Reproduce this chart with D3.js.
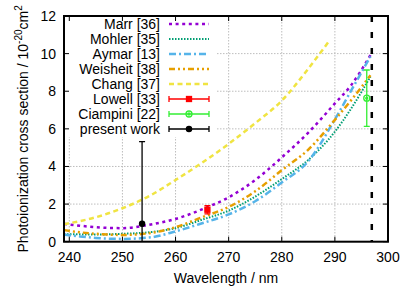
<!DOCTYPE html>
<html><head><meta charset="utf-8">
<script src="https://cdn.jsdelivr.net/npm/d3@7"></script>
<style>body{margin:0;background:#fff}svg{display:block}text{font-family:"Liberation Sans",Arial,sans-serif}</style>
</head><body>
<script>
const W = 415, H = 291;
// ---- data ----
const wavelengths = [239, 242, 245, 250, 255, 260, 265, 270, 275, 280, 285, 290, 293, 296.7];
const marr     = [0.95, 0.85, 0.77, 0.72, 0.90, 1.21, 1.72, 2.36, 3.28, 4.48, 5.80, 7.35, 8.30, 9.92];
const mohler   = [0.40, 0.39, 0.38, 0.42, 0.50, 0.72, 1.17, 1.65, 2.40, 3.33, 4.35, 5.85, 7.05, 8.78];
const aymar    = [0.38, 0.28, 0.20, 0.15, 0.22, 0.55, 0.98, 1.45, 2.15, 3.15, 4.28, 6.50, 8.00, 9.85];
const weisheit = [0.62, 0.50, 0.42, 0.36, 0.45, 0.77, 1.30, 1.85, 2.68, 3.80, 4.90, 6.48, 7.50, 8.85];
const changWl  = [239, 245, 250, 255, 260, 265, 270, 275, 280, 285, 289];
const chang    = [0.93, 1.30, 1.78, 2.42, 3.28, 4.20, 5.20, 6.30, 7.50, 9.20, 10.70];
const lowell   = {wl: 266.0, v: 1.70, err: 0.22};
const ciampini = {wl: 296.0, v: 7.63, err: 1.50};
const present  = {wl: 253.7, v: 0.96, err: 4.36};
const threshold = 296.95;
const xTicks = [240, 250, 260, 270, 280, 290, 300];
const yTicks = [0, 2, 4, 6, 8, 10, 12];

const series = [
  {name: "Marr [36]",     wl: wavelengths, v: marr,     color: "#9400d3", dash: "3,3.6",          w: 2.5},
  {name: "Mohler [35]",   wl: wavelengths, v: mohler,   color: "#009e73", dash: "1.5,1.5",        w: 2},
  {name: "Aymar [13]",    wl: wavelengths, v: aymar,    color: "#56b4e9", dash: "7,3,2,3",        w: 2.5},
  {name: "Weisheit [38]", wl: wavelengths, v: weisheit, color: "#e69f00", dash: "6,3,2,3,2,3",    w: 2.5},
  {name: "Chang [37]",    wl: changWl,     v: chang,    color: "#f0e442", dash: "5,3.5",          w: 2.5}
];
const points = [
  {name: "Lowell [33]",   d: lowell,   color: "#ff0000", marker: "square"},
  {name: "Ciampini [22]", d: ciampini, color: "#33ee33", marker: "ocircle"},
  {name: "present work",  d: present,  color: "#000000", marker: "circle"}
];

const L = 64, R = 388, T = 16, B = 241.7;
const x = d3.scaleLinear().domain([239, 300]).range([L, R]);
const y = d3.scaleLinear().domain([0, 12]).range([B, T]);

const svg = d3.select("body").append("svg").attr("width", W).attr("height", H);
svg.append("defs").append("clipPath").attr("id", "clip")
  .append("rect").attr("x", L).attr("y", T).attr("width", R - L).attr("height", B - T);

// grid
const grid = svg.append("g").attr("stroke", "#bdbdbd").attr("stroke-width", 1).attr("stroke-dasharray", "1.5,1.5");
xTicks.filter(t => t > 239 && t < 300).forEach(t =>
  grid.append("line").attr("x1", x(t)).attr("x2", x(t)).attr("y1", T).attr("y2", B));
yTicks.filter(t => t > 0 && t < 12).forEach(t =>
  grid.append("line").attr("x1", L).attr("x2", R).attr("y1", y(t)).attr("y2", y(t)));

const plot = svg.append("g").attr("clip-path", "url(#clip)");
// threshold line
plot.append("line").attr("x1", x(threshold)).attr("x2", x(threshold)).attr("y1", T).attr("y2", B)
  .attr("stroke", "#000").attr("stroke-width", 2.5).attr("stroke-dasharray", "6,10");

const line = d3.line().curve(d3.curveMonotoneX);
series.forEach(s => {
  plot.append("path").attr("d", line(s.wl.map((w, i) => [x(w), y(s.v[i])])))
    .attr("fill", "none").attr("stroke", s.color).attr("stroke-width", s.w)
    .attr("stroke-dasharray", s.dash);
});

function marker(g, type, cx, cy, color) {
  if (type === "square") g.append("rect").attr("x", cx - 2.5).attr("y", cy - 2.5).attr("width", 5).attr("height", 5).attr("fill", color);
  else if (type === "circle") g.append("circle").attr("cx", cx).attr("cy", cy).attr("r", 2.6).attr("fill", color);
  else { g.append("circle").attr("cx", cx).attr("cy", cy).attr("r", 3).attr("fill", "none").attr("stroke", color).attr("stroke-width", 1.3);
         g.append("circle").attr("cx", cx).attr("cy", cy).attr("r", 1).attr("fill", color); }
}
points.forEach(p => {
  const g = plot.append("g").attr("stroke", p.color).attr("stroke-width", 1.3);
  const cx = x(p.d.wl), y1 = y(p.d.v + p.d.err), y0 = y(p.d.v - p.d.err);
  g.append("line").attr("x1", cx).attr("x2", cx).attr("y1", y0).attr("y2", y1);
  g.append("line").attr("x1", cx - 3).attr("x2", cx + 3).attr("y1", y1).attr("y2", y1);
  g.append("line").attr("x1", cx - 3).attr("x2", cx + 3).attr("y1", y0).attr("y2", y0);
  marker(g, p.marker, cx, y(p.d.v), p.color);
});

// legend
svg.append("rect").attr("x", L + 1).attr("y", T + 1).attr("width", 152).attr("height", 120).attr("fill", "#fff");
const leg = svg.append("g");
const rowY = i => 24 + i * 15;
series.forEach((s, i) => {
  leg.append("text").attr("x", 160).attr("y", rowY(i) + 5).attr("text-anchor", "end").attr("font-size", 14).text(s.name);
  leg.append("line").attr("x1", 169).attr("x2", 209).attr("y1", rowY(i)).attr("y2", rowY(i))
    .attr("stroke", s.color).attr("stroke-width", s.w).attr("stroke-dasharray", s.dash);
});
points.forEach((p, j) => {
  const i = j + series.length, yy = rowY(i);
  leg.append("text").attr("x", 160).attr("y", yy + 5).attr("text-anchor", "end").attr("font-size", 14).text(p.name);
  const g = leg.append("g").attr("stroke", p.color).attr("stroke-width", 1.3);
  g.append("line").attr("x1", 169).attr("x2", 209).attr("y1", yy).attr("y2", yy);
  g.append("line").attr("x1", 169).attr("x2", 169).attr("y1", yy - 3).attr("y2", yy + 3);
  g.append("line").attr("x1", 209).attr("x2", 209).attr("y1", yy - 3).attr("y2", yy + 3);
  marker(g, p.marker, 189, yy, p.color);
});

// ticks (inward, mirrored)
const tk = svg.append("g").attr("stroke", "#000").attr("stroke-width", 1);
xTicks.forEach(t => {
  tk.append("line").attr("x1", x(t)).attr("x2", x(t)).attr("y1", B).attr("y2", B - 5);
  tk.append("line").attr("x1", x(t)).attr("x2", x(t)).attr("y1", T).attr("y2", T + 5);
});
yTicks.forEach(t => {
  tk.append("line").attr("x1", L).attr("x2", L + 5).attr("y1", y(t)).attr("y2", y(t));
  tk.append("line").attr("x1", R).attr("x2", R - 5).attr("y1", y(t)).attr("y2", y(t));
});
// frame
svg.append("rect").attr("x", L).attr("y", T).attr("width", R - L).attr("height", B - T)
  .attr("fill", "none").attr("stroke", "#000").attr("stroke-width", 2);

// tick labels
xTicks.forEach(t => svg.append("text").attr("x", x(t)).attr("y", 262).attr("text-anchor", "middle").attr("font-size", 14).text(t));
yTicks.forEach(t => svg.append("text").attr("x", 56).attr("y", y(t) + 5).attr("text-anchor", "end").attr("font-size", 14).text(t));

// axis titles
svg.append("text").attr("x", (L + R) / 2).attr("y", 283).attr("text-anchor", "middle").attr("font-size", 14).text("Wavelength / nm");
const yt = svg.append("text").attr("transform", `translate(28,${(T + B) / 2}) rotate(-90)`)
  .attr("text-anchor", "middle").attr("font-size", 14);
yt.append("tspan").text("Photoionization cross section / 10");
yt.append("tspan").attr("font-size", 10).attr("dy", -6).text("-20");
yt.append("tspan").attr("dy", 6).text("cm");
yt.append("tspan").attr("font-size", 10).attr("dy", -6).text("2");
</script>
</body></html>
